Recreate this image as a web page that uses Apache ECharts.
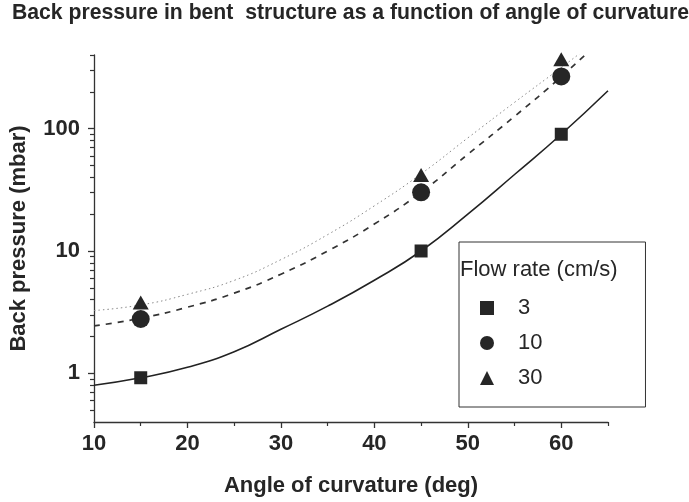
<!DOCTYPE html>
<html>
<head>
<meta charset="utf-8">
<script src="https://cdn.jsdelivr.net/npm/echarts@6/dist/echarts.min.js"></script>
<style>
html,body{margin:0;padding:0;background:#fff;}
#chart{width:689px;height:502px;}
</style>
</head>
<body>
<div id="chart"></div>
<script>
// ---- data ----
const titleText = 'Back pressure in bent  structure as a function of angle of curvature';
const xName = 'Angle of curvature (deg)';
const yName = 'Back pressure (mbar)';
const legendTitle = 'Flow rate (cm/s)';
const seriesNames = ['3', '10', '30'];

// measured points
const angles = [15, 45, 60];
const flow3 = [0.92, 10, 90];
const flow10 = [2.78, 30.2, 267];
const flow30 = [3.8, 41.8, 370];

// fitted curves
const fitX = [10, 15, 20, 25, 30, 35, 40, 45, 50, 55, 60, 65];
const fit3 = [0.80, 0.92, 1.12, 1.50, 2.29, 3.54, 5.77, 10, 20, 42.2, 90, 204];
const fit10 = [2.44, 2.82, 3.47, 4.52, 6.46, 10.0, 16.6, 30.2, 61.7, 126, 266, 603];
const fit30 = [3.26, 3.62, 4.42, 5.75, 8.5, 13.6, 23.4, 42.7, 84, 164, 316, 617];

// axis ticks
const xMajorTicks = [10, 20, 30, 40, 50, 60];
const xMinorTicks = [15, 25, 35, 45, 55, 65];
const yMajorTicks = [1, 10, 100];
const yMinorTicks = [0.5, 0.6, 0.7, 0.8, 0.9, 2, 3, 4, 5, 6, 7, 8, 9, 20, 30, 40, 50, 60, 70, 80, 90, 200, 300, 400];

const FONT = '"Liberation Sans", Arial, sans-serif';
const TXT = '#262626';
const INK = '#262626';

function pairs(xs, ys) { return xs.map((x, i) => [x, ys[i]]); }

const chart = echarts.init(document.getElementById('chart'), null, {renderer: 'canvas'});
const grid = {left: 90.5, right: 81, top: 55, bottom: 78, containLabel: false};

chart.setOption({
  backgroundColor: '#fff',
  animation: false,
  title: [
    {text: titleText, left: 12, top: 3, padding: 0,
     textStyle: {fontFamily: FONT, fontSize: 21.2, fontWeight: 'bold', color: TXT}},
    {text: legendTitle, left: 460, top: 259, padding: 0, z: 10,
     textStyle: {fontFamily: FONT, fontSize: 22, fontWeight: 'normal', color: TXT}}
  ],
  grid: grid,
  legend: {
    data: seriesNames,
    orient: 'vertical',
    left: 459, top: 242,
    padding: [55, 103, 18, 21],
    itemGap: 13,
    itemWidth: 14, itemHeight: 14,
    borderColor: '#333', borderWidth: 1,
    backgroundColor: '#fff',
    textStyle: {fontFamily: FONT, fontSize: 22, color: TXT, padding: [0, 0, 0, 19]},
    selectedMode: false
  },
  xAxis: [
    {type: 'value', min: 10, max: 65, name: xName, nameLocation: 'middle', nameGap: 53,
     nameTextStyle: {fontFamily: FONT, fontSize: 22, fontWeight: 'bold', color: TXT},
     axisLine: {show: true, lineStyle: {color: '#333', width: 1.3}},
     axisTick: {show: true, length: 6, customValues: xMajorTicks, lineStyle: {color: '#333', width: 1.3}},
     axisLabel: {customValues: xMajorTicks, margin: 11, fontFamily: FONT, fontSize: 22, fontWeight: 'bold', color: TXT},
     splitLine: {show: false}},
    {type: 'value', min: 10, max: 65, position: 'bottom',
     axisLine: {show: false},
     axisTick: {show: true, length: 4, customValues: xMinorTicks, lineStyle: {color: '#333', width: 1.2}},
     axisLabel: {show: false}, splitLine: {show: false}}
  ],
  yAxis: [
    {type: 'log', logBase: 10, min: 0.4, max: 400, name: yName, nameLocation: 'middle', nameGap: 64,
     nameTextStyle: {fontFamily: FONT, fontSize: 22, fontWeight: 'bold', color: TXT},
     axisLine: {show: true, lineStyle: {color: '#333', width: 1.3}},
     axisTick: {show: true, length: 6, customValues: yMajorTicks, lineStyle: {color: '#333', width: 1.3}},
     axisLabel: {customValues: yMajorTicks, margin: 14, fontFamily: FONT, fontSize: 22, fontWeight: 'bold', color: TXT},
     splitLine: {show: false}},
    {type: 'log', logBase: 10, min: 0.4, max: 400, position: 'left',
     axisLine: {show: false},
     axisTick: {show: true, length: 4, customValues: yMinorTicks, lineStyle: {color: '#333', width: 1.2}},
     axisLabel: {show: false}, splitLine: {show: false}}
  ],
  series: [
    {type: 'line', name: 'fit3', data: pairs(fitX, fit3), smooth: 0.5, showSymbol: false, clip: true,
     lineStyle: {color: '#222', width: 1.6, type: 'solid'}, z: 1, silent: true},
    {type: 'line', name: 'fit10', data: pairs(fitX, fit10), smooth: 0.5, showSymbol: false, clip: true,
     lineStyle: {color: '#333', width: 1.7, type: [6, 6]}, z: 1, silent: true},
    {type: 'line', name: 'fit30', data: pairs(fitX, fit30), smooth: 0.5, showSymbol: false, clip: true,
     lineStyle: {color: '#888', width: 1, type: [1.5, 3]}, z: 1, silent: true},
    {type: 'scatter', name: '3', data: pairs(angles, flow3), symbol: 'rect', symbolSize: 13,
     itemStyle: {color: INK, opacity: 1}, z: 3},
    {type: 'scatter', name: '10', data: pairs(angles, flow10), symbol: 'circle', symbolSize: 18,
     itemStyle: {color: INK, opacity: 1}, z: 3},
    {type: 'scatter', name: '30', data: pairs(angles, flow30), symbol: 'triangle', symbolSize: [16, 14],
     itemStyle: {color: INK, opacity: 1}, z: 3}
  ]
});
</script>
</body>
</html>
